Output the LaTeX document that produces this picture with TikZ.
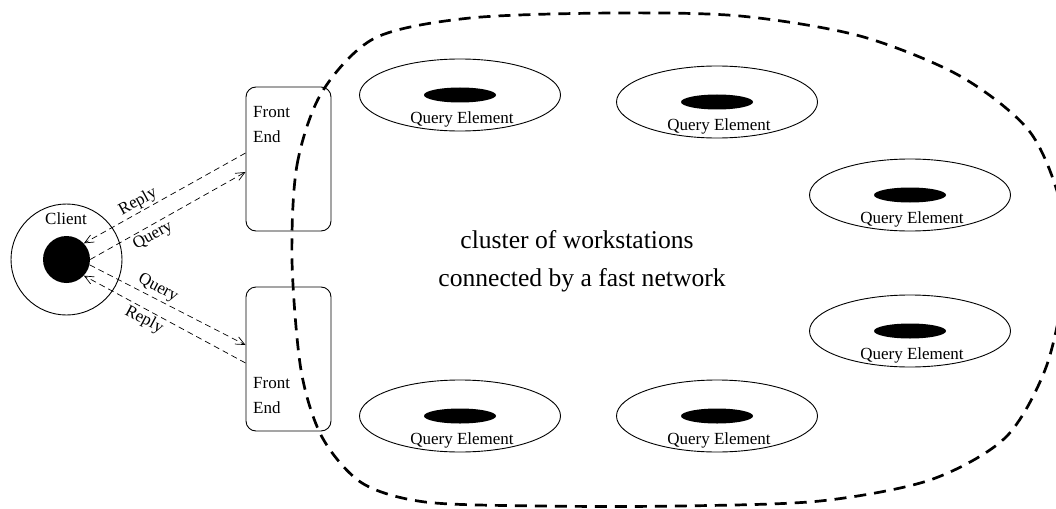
\documentclass[tikz,border=0pt]{standalone}
\usepackage{fontspec}
\setmainfont{Liberation Serif}
\usetikzlibrary{shapes.geometric,arrows.meta,calc}
\begin{document}
\begin{tikzpicture}[x=1pt,y=-1pt,
  lbl/.style={inner sep=0pt,font=\fontsize{17}{20}\selectfont},
  bigtxt/.style={inner sep=0pt,font=\fontsize{25.6}{30}\selectfont},
  febox/.style={draw,line width=0.9pt,rounded corners=10pt,minimum width=85pt,minimum height=144pt,inner sep=0pt},
  qering/.style={draw,ellipse,line width=0.9pt,minimum width=201pt,minimum height=72pt,inner sep=0pt},
  qecore/.style={fill,ellipse,minimum width=72pt,minimum height=15pt,inner sep=0pt},
  msg/.style={line width=0.7pt,dash pattern=on 6pt off 4pt,-{Straight Barb[length=9pt,width=8pt]}},
  cluster/.style={line width=2.7pt,dash pattern=on 12pt off 8pt}]
\useasboundingbox (0,0) rectangle (1056,508);
\begin{scope}
\clip (0,0) rectangle (1056,508);
\draw[cluster] plot[smooth cycle] coordinates {
 (292,260) (297,165) (322,92) (375,38) (470,18) (613,13) (740,16)
 (860,36) (960,76) (1030,132) (1062,210) (1063,290) (1045,370)
 (1005,438) (930,480) (820,501) (680,506) (540,506) (425,502)
 (362,483) (322,437) (301,370)};
\end{scope}
% client
\node[circle,draw,line width=0.9pt,minimum size=111pt,inner sep=0pt] (ring) at (66.5,259.5) {};
\node[circle,fill,minimum size=47pt,inner sep=0pt] (disc) at (66.5,259.5) {};
\node[lbl] (clientlbl) at (66,219) {Client};
% front ends
\node[febox] (fe1) at (288.5,159) {};
\node[lbl,anchor=west] (fe1a) at (253,112) {Front};
\node[lbl,anchor=west] (fe1b) at (253,137) {End};
\node[febox] (fe2) at (288.5,359) {};
\node[lbl,anchor=west] (fe2a) at (253,383) {Front};
\node[lbl,anchor=west] (fe2b) at (253,408) {End};
% messages
\draw[msg] ([yshift=6pt]fe1.west) -- (disc.43);
\draw[msg] (disc.east) -- ([yshift=-13pt]fe1.west);
\draw[msg] (disc.-13) -- ([yshift=14pt]fe2.west);
\draw[msg] ([yshift=-4pt]fe2.west) -- (disc.-43);
\node[lbl,rotate=29] (r1) at (138,202) {Reply};
\node[lbl,rotate=29] (q1) at (153,236) {Query};
\node[lbl,rotate=-28] (q2) at (158,288) {Query};
\node[lbl,rotate=-28] (r2) at (144,320) {Reply};
% query elements
\foreach \n/\x/\y in {1/460/95,2/717/102,3/910/195,4/910/331,5/460/416,6/717/416}{
  \node[qering] (qe\n) at (\x,\y) {};
  \node[qecore] (qc\n) at (\x,\y) {};
  \node[lbl] (ql\n) at ($(qe\n.center)+(2,24)$) {Query Element};
}
\node[bigtxt] (t1) at (577,240) {cluster of workstations};
\node[bigtxt] (t2) at (582,280) {connected by a fast network};
\end{tikzpicture}
\end{document}
